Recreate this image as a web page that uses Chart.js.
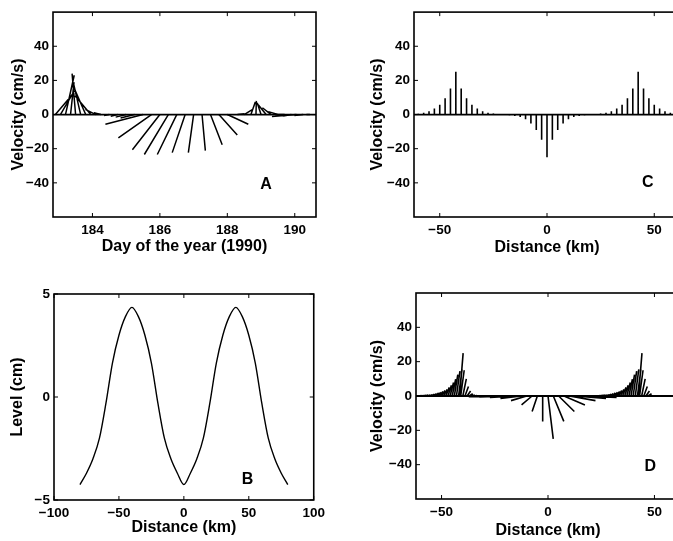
<!DOCTYPE html>
<html>
<head>
<meta charset="utf-8">
<script src="https://cdn.jsdelivr.net/npm/chart.js@4.4.0/dist/chart.umd.min.js"></script>
<style>
    html, body { margin: 0; padding: 0; background: #fff; overflow: hidden; width: 673px; height: 541px; }
    canvas { position: absolute; }
</style>
</head>
<body>
<canvas id="panelA" width="330" height="256" style="left:0;top:0"></canvas>
<canvas id="panelC" width="345" height="257" style="left:340px;top:0"></canvas>
<canvas id="panelB" width="330" height="267" style="left:0;top:270px"></canvas>
<canvas id="panelD" width="345" height="270" style="left:340px;top:270px"></canvas>
<script>
// Panel A: current meter sticks (day of year 1990), u = cross component, v = along component (cm/s)
const aDays = [182.9, 183.05, 183.2, 183.35, 183.5, 183.65, 183.8, 183.95, 184.1, 184.25,
    184.5, 184.75, 185.0, 185.25, 185.5, 185.75, 186.0, 186.25, 186.5, 186.75, 187.0, 187.25,
    187.5, 187.75, 188.0, 188.3, 188.5, 188.7, 188.85, 189.0, 189.15, 189.3, 189.5, 189.7,
    189.9, 190.05, 190.25, 190.45];
const aU = [10, 8, 5, 2, -2, -4, -6, -9, -6, -4,
    -3, -4, -6, -8, -21.5, -18.9, -15.7, -13.7, -11.1, -7.4, -3, 1.9,
    6.7, 10.5, 12, 4, 4.6, 2.5, 0.2, -2.2, -4.5, -5, -5.5, -5.4,
    -4.6, -14, -5, -2];
const aV = [12, 14, 23, 19, 24, 18, 14, 11, 3, 1,
    -0.5, -1, -1.5, -2, -5.7, -13.7, -20.6, -23.4, -23.4, -22.3, -22.3, -21.1,
    -17.7, -12, -5.7, 0.5, 2.9, 7.4, 8, 6.9, 5.7, 4, 1.7, 0,
    -0.8, -1.2, -0.5, 0];
const aTicksX = [184, 186, 188, 190];
const velTicks = [-40, -20, 0, 20, 40];

// Panel B: sea level (cm) against distance (km)
const bDistance = [-80, -75, -70, -65, -60, -55, -50, -45, -40, -35, -30, -25, -20, -15, -10, -5, 0,
    5, 10, 15, 20, 25, 30, 35, 40, 45, 50, 55, 60, 65, 70, 75, 80];
const bLevel = [-4.25, -3.7, -3.0, -2.0, -0.3, 1.65, 3.0, 3.9, 4.35, 3.9, 3.0, 1.65, -0.3, -2.0, -3.0, -3.7, -4.25,
    -3.7, -3.0, -2.0, -0.3, 1.65, 3.0, 3.9, 4.35, 3.9, 3.0, 1.65, -0.3, -2.0, -3.0, -3.7, -4.25];
const bTicksX = [-100, -50, 0, 50, 100];
const bTicksY = [-5, 0, 5];

// Panel C: along-front velocity at 2.5 km spacing
const cDistance = [-60, -57.5, -55, -52.5, -50, -47.5, -45, -42.5, -40, -37.5, -35, -32.5, -30, -27.5, -25,
    -22.5, -20, -17.5, -15, -12.5, -10, -7.5, -5, -2.5, 0, 2.5, 5, 7.5, 10, 12.5, 15, 17.5, 20, 22.5,
    25, 27.5, 30, 32.5, 35, 37.5, 40, 42.5, 45, 47.5, 50, 52.5, 55, 57.5];
const cVel = [0.5, 1, 2, 3.5, 5.7, 9.5, 15.2, 25, 15.2, 9.5, 5.7, 3.5, 2, 1, 0.6,
    0.3, 0.1, -0.4, -0.8, -1.4, -2.7, -5.2, -9, -14.8, -25, -14.8, -9, -5.2, -2.7, -1.4, -0.8, -0.4, 0.1, 0.3,
    0.6, 1, 2, 3.5, 5.7, 9.5, 15.2, 25, 15.2, 9.5, 5.7, 3.5, 2, 1];
const distTicks = [-50, 0, 50];

// Panel D: model velocity sticks against distance (dense near the two crests)
const dDistance = [-61, -60, -59, -58, -57, -56, -55, -54, -53, -52, -51, -50, -49, -48, -47, -46, -45, -44, -43, -42,
    -41.5, -41, -40, -39, -38, -37, -36, -35,
    -20, -17.5, -15, -12.5, -10, -7.5, -5, -2.5, 0, 2.5, 5, 7.5, 10, 12.5, 15, 17.5, 20,
    23, 24, 25, 26, 27, 28, 29, 30, 31, 32, 33, 34, 35, 36, 37, 38, 39, 40, 41, 42,
    42.5, 43, 44, 45, 46, 47, 48, 49];
const dU = [2, 2, 2, 2, 2, 2, 2, 2, 2, 2, 2, 2, 2, 2, 2, 2, 2, 2, 2, 2,
    2, 2, 2, 2, 2, 2, 2, 2,
    -21, -18, -15, -12, -9, -6, -3, 0, 3, 6, 9, 12, 15, 18, 21,
    2, 2, 2, 2, 2, 2, 2, 2, 2, 2, 2, 2, 2, 2, 2, 2, 2, 2, 2, 2,
    2, 2, 2, 2, 2, 2, 2, 2];
const dV = [0.2, 0.3, 0.4, 0.5, 0.6, 0.7, 1.1, 1.4, 1.8, 2.2, 2.7, 3.2, 3.9, 5, 6.3, 7.9, 9.8, 12.5, 14.5, 15.5,
    25, 15, 10, 5.5, 2.9, 1.3, 0.6, 0.2,
    -0.4, -0.6, -0.8, -1.4, -2.7, -5.2, -9, -14.8, -25, -14.8, -9, -5.2, -2.7, -1.4, -0.8, -0.6, -0.4,
    0.3, 0.4, 0.5, 0.6, 0.7, 1.1, 1.4, 1.8, 2.2, 2.7, 3.2, 3.9, 5, 6.3, 7.9, 9.8, 12.5, 14.5, 15.5, 15.5,
    25, 15, 10, 5.5, 2.9, 1.3, 0.6, 0.2];

const TICK_FONT = { family: '"Liberation Sans", Arial, sans-serif', size: 13.5, weight: 'bold' };
const TITLE_FONT = { family: '"Liberation Sans", Arial, sans-serif', size: 16, weight: 'bold' };
const fmt = (v) => (v < 0 ? '\u2212' + Math.abs(v) : String(v));

// line segments from base (x, 0) to tip (x + u*scale, v), split by gaps
const sticks = (xs, us, vs, scale) => {
    const pts = [];
    xs.forEach((x, i) => {
        pts.push({ x: x, y: 0 }, { x: x + us[i] * scale, y: vs[i] }, { x: x, y: null });
    });
    return pts;
};

// box with inward ticks on all four sides, plus the panel letter
const frameTicks = {
    id: 'frameTicks',
    afterDatasetsDraw(chart, args, opts) {
        const { ctx, chartArea: a, scales } = chart;
        ctx.save();
        ctx.strokeStyle = '#000';
        ctx.lineWidth = 1;
        ctx.beginPath();
        scales.x.ticks.forEach((t) => {
            const px = scales.x.getPixelForValue(t.value);
            ctx.moveTo(px, a.bottom); ctx.lineTo(px, a.bottom - 4);
            ctx.moveTo(px, a.top); ctx.lineTo(px, a.top + 4);
        });
        scales.y.ticks.forEach((t) => {
            const py = scales.y.getPixelForValue(t.value);
            ctx.moveTo(a.left, py); ctx.lineTo(a.left + 4, py);
            ctx.moveTo(a.right, py); ctx.lineTo(a.right - 4, py);
        });
        ctx.stroke();
        ctx.lineWidth = 1.6;
        ctx.strokeRect(a.left, a.top, a.width, a.height);
        if (opts.letter) {
            ctx.fillStyle = '#000';
            ctx.font = 'bold 16px "Liberation Sans", Arial, sans-serif';
            ctx.textAlign = 'center';
            ctx.textBaseline = 'middle';
            ctx.fillText(opts.letter, scales.x.getPixelForValue(opts.at[0]), scales.y.getPixelForValue(opts.at[1]));
        }
        ctx.restore();
    }
};

const makeOptions = (o) => ({
    responsive: false,
    animation: false,
    events: [],
    layout: { padding: o.pad },
    plugins: {
        legend: { display: false },
        tooltip: { enabled: false },
        frameTicks: { letter: o.letter, at: o.letterAt }
    },
    scales: {
        x: {
            type: 'linear',
            min: o.xmin,
            max: o.xmax,
            grid: { display: false, drawTicks: false },
            border: { display: false },
            afterFit: (s) => { s.height = o.xh; },
            afterBuildTicks: (s) => { s.ticks = o.xticks.map((v) => ({ value: v })); },
            ticks: { color: '#000', font: TICK_FONT, padding: 5, maxRotation: 0, autoSkip: false, callback: fmt },
            title: { display: true, text: o.xtitle, color: '#000', font: TITLE_FONT, padding: 0 }
        },
        y: {
            type: 'linear',
            min: o.ymin,
            max: o.ymax,
            grid: { display: false, drawTicks: false },
            border: { display: false },
            afterFit: (s) => { s.width = o.yw; },
            afterBuildTicks: (s) => { s.ticks = o.yticks.map((v) => ({ value: v })); },
            ticks: { color: '#000', font: TICK_FONT, padding: 4, autoSkip: false, callback: fmt },
            title: { display: true, text: o.ytitle, color: '#000', font: TITLE_FONT, padding: { top: o.ytp, bottom: 0 } }
        }
    }
});

const lineSet = (data, width) => ({
    data: data,
    showLine: true,
    borderColor: '#000',
    borderWidth: width,
    pointRadius: 0,
    spanGaps: false,
    tension: 0
});

// A
const A_MIN = 182.83, A_MAX = 190.63;
new Chart(document.getElementById('panelA'), {
    type: 'scatter',
    data: { datasets: [
        lineSet([{ x: A_MIN, y: 0 }, { x: A_MAX, y: 0 }], 1.8),
        lineSet(sticks(aDays, aU, aV, 0.0519), 1.5)
    ] },
    options: makeOptions({
        pad: { top: 6, right: 14, left: 0, bottom: 0 },
        xmin: A_MIN, xmax: A_MAX, ymin: -60, ymax: 60, xh: 39, yw: 53, ytp: 9,
        xticks: aTicksX, yticks: velTicks,
        xtitle: 'Day of the year (1990)', ytitle: 'Velocity (cm/s)',
        letter: 'A', letterAt: [189.15, -41]
    }),
    plugins: [frameTicks]
});

// C
new Chart(document.getElementById('panelC'), {
    type: 'scatter',
    data: { datasets: [
        lineSet([{ x: -62, y: 0 }, { x: 62, y: 0 }], 1.8),
        lineSet(sticks(cDistance, cDistance.map(() => 0), cVel, 0), 1.6)
    ] },
    options: makeOptions({
        pad: { top: 7, right: 5, left: 0, bottom: 0 },
        xmin: -62, xmax: 62, ymin: -60, ymax: 60, xh: 40, yw: 74, ytp: 28,
        xticks: distTicks, yticks: velTicks,
        xtitle: 'Distance (km)', ytitle: 'Velocity (cm/s)',
        letter: 'C', letterAt: [47, -40]
    }),
    plugins: [frameTicks]
});

// B
new Chart(document.getElementById('panelB'), {
    type: 'scatter',
    data: { datasets: [
        Object.assign(lineSet(bDistance.map((x, i) => ({ x: x, y: bLevel[i] })), 1.4), { cubicInterpolationMode: 'monotone' })
    ] },
    options: makeOptions({
        pad: { top: 24, right: 11, left: 0, bottom: 0 },
        xmin: -100, xmax: 100, ymin: -5, ymax: 5, xh: 37, yw: 54, ytp: 8,
        xticks: bTicksX, yticks: bTicksY,
        xtitle: 'Distance (km)', ytitle: 'Level (cm)',
        letter: 'B', letterAt: [49, -4.0]
    }),
    plugins: [frameTicks]
});

// D
new Chart(document.getElementById('panelD'), {
    type: 'scatter',
    data: { datasets: [
        lineSet([{ x: -62, y: 0 }, { x: 62, y: 0 }], 1.8),
        lineSet(sticks(dDistance, dU, dV, 0.82), 1.6)
    ] },
    options: makeOptions({
        pad: { top: 23, right: 5, left: 0, bottom: 0 },
        xmin: -62, xmax: 62, ymin: -60, ymax: 60, xh: 41, yw: 76, ytp: 28,
        xticks: distTicks, yticks: velTicks,
        xtitle: 'Distance (km)', ytitle: 'Velocity (cm/s)',
        letter: 'D', letterAt: [48, -41]
    }),
    plugins: [frameTicks]
});
</script>
</body>
</html>
